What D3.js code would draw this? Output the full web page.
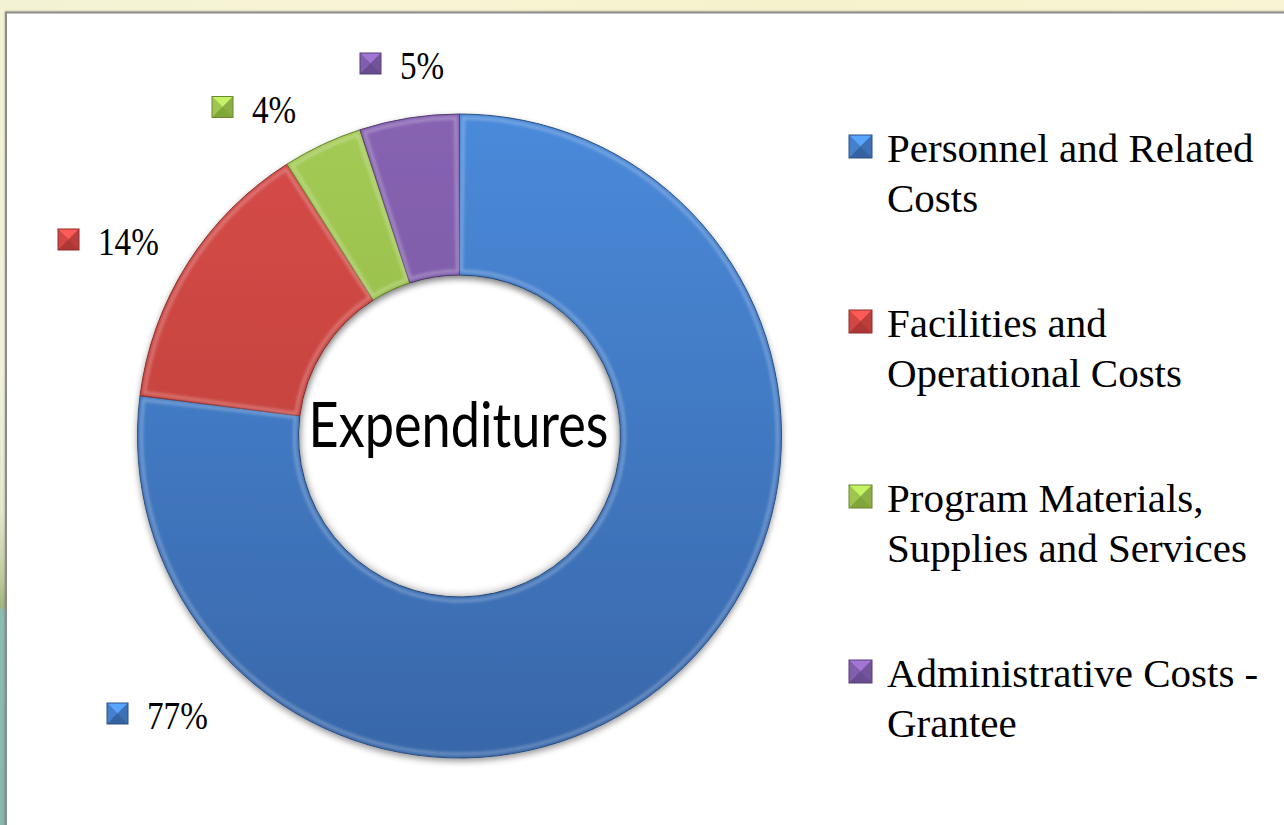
<!DOCTYPE html>
<html>
<head>
<meta charset="utf-8">
<script src="https://cdn.jsdelivr.net/npm/d3@7"></script>
<style>
  html, body { margin: 0; padding: 0; background: #fff; }
  svg { display: block; }
</style>
</head>
<body>
<svg id="chart" width="1284" height="825"></svg>
<script>
// ---- data ----
const categories = [
  "Personnel and Related Costs",
  "Facilities and Operational Costs",
  "Program Materials, Supplies and Services",
  "Administrative Costs - Grantee"
];
const values = [77, 14, 4, 5];
const percentLabels = ["77%", "14%", "4%", "5%"];
const legendLines = [
  ["Personnel and Related", "Costs"],
  ["Facilities and", "Operational Costs"],
  ["Program Materials,", "Supplies and Services"],
  ["Administrative Costs -", "Grantee"]
];
const centerTitle = "Expenditures";

// ---- styles / layout ----
const colorsTop = ["#4a8ada", "#d64c48", "#a4cb55", "#8763b2"];
const colorsBot = ["#3867a9", "#b73a38", "#88ad3e", "#6f4f98"];
const labelAnchors = [ [107, 713.5], [58, 239.5], [212, 107], [360, 63.5] ]; // marker left x, center y

const svg = d3.select("#chart");
const W = 1284, H = 825;
const defs = svg.append("defs");

// background
const bg = defs.append("linearGradient").attr("id", "bgLeft").attr("x1", 0).attr("y1", 0).attr("x2", 0).attr("y2", 1);
[["0", "#f4f2d2"], ["0.45", "#f1f1dc"], ["0.62", "#e3e8cc"], ["0.69", "#c4cfa6"], ["0.735", "#a3b682"], ["0.74", "#8fbcb2"], ["1", "#8ab6ab"]]
  .forEach(([o, c]) => bg.append("stop").attr("offset", o).attr("stop-color", c));
svg.append("rect").attr("width", W).attr("height", H).attr("fill", "url(#bgLeft)");
const bgTop = defs.append("linearGradient").attr("id", "bgTop").attr("x1", 0).attr("y1", 0).attr("x2", 1).attr("y2", 0);
[["0", "#f3f2d4"], ["0.3", "#f8f5d6"], ["0.6", "#f6f2cc"], ["1", "#f8f5d4"]]
  .forEach(([o, c]) => bgTop.append("stop").attr("offset", o).attr("stop-color", c));
svg.append("rect").attr("x", 0).attr("y", 0).attr("width", W).attr("height", 14).attr("fill", "url(#bgTop)");

// panel
const panelShadow = defs.append("filter").attr("id", "panelShadow").attr("x", "-5%").attr("y", "-5%").attr("width", "110%").attr("height", "110%");
panelShadow.append("feDropShadow").attr("dx", 0).attr("dy", 0).attr("stdDeviation", 1).attr("flood-color", "#000").attr("flood-opacity", 0.35);
svg.append("rect").attr("x", 6).attr("y", 12.5).attr("width", W + 10).attr("height", H + 10)
  .attr("fill", "#fff").attr("stroke", "#8c8c8c").attr("stroke-width", 2).attr("filter", "url(#panelShadow)");

// donut
const cx = 459.5, cy = 436, outerR = 322, innerR = 161;
const g = svg.append("g").attr("transform", `translate(${cx},${cy})`);

values.forEach((v, i) => {
  const lg = defs.append("linearGradient").attr("id", "seg" + i)
    .attr("gradientUnits", "userSpaceOnUse")
    .attr("x1", 0).attr("y1", -outerR).attr("x2", 0).attr("y2", outerR);
  lg.append("stop").attr("offset", 0).attr("stop-color", colorsTop[i]);
  lg.append("stop").attr("offset", 1).attr("stop-color", colorsBot[i]);
});

const donutShadow = defs.append("filter").attr("id", "donutShadow").attr("x", "-10%").attr("y", "-10%").attr("width", "120%").attr("height", "120%");
donutShadow.append("feDropShadow").attr("dx", 0).attr("dy", 3).attr("stdDeviation", 3).attr("flood-color", "#000").attr("flood-opacity", 0.4);
const bevelBlur = defs.append("filter").attr("id", "bevelBlur");
bevelBlur.append("feGaussianBlur").attr("stdDeviation", 1.5);

const pie = d3.pie().value(d => d).sort(null);
const arcs = pie(values);
const arc = d3.arc().innerRadius(innerR).outerRadius(outerR);
const arcInset = d3.arc().innerRadius(innerR + 4).outerRadius(outerR - 4);

const segG = g.append("g").attr("filter", "url(#donutShadow)");
segG.selectAll("path.seg").data(arcs).join("path")
  .attr("class", "seg")
  .attr("d", arc)
  .attr("fill", (d, i) => `url(#seg${i})`)
  .attr("stroke", (d, i) => d3.color(colorsBot[i]).darker(0.9))
  .attr("stroke-width", 1);

// bevel highlights
g.append("g").selectAll("path.bev").data(arcs).join("path")
  .attr("class", "bev")
  .attr("d", d => arcInset({ startAngle: d.startAngle + 0.012, endAngle: d.endAngle - 0.012 }))
  .attr("fill", "none")
  .attr("stroke", "rgba(255,255,255,0.28)")
  .attr("stroke-width", 3)
  .attr("filter", "url(#bevelBlur)");

// inner shadow on the hole
const hole = defs.append("radialGradient").attr("id", "holeShade").attr("cx", "50%").attr("cy", "50%").attr("r", "50%");
hole.append("stop").attr("offset", "0.93").attr("stop-color", "#fff").attr("stop-opacity", 0);
hole.append("stop").attr("offset", "1").attr("stop-color", "#000").attr("stop-opacity", 0.18);
g.append("circle").attr("r", innerR).attr("fill", "url(#holeShade)");

// center title
g.append("text")
  .attr("x", -1).attr("y", 11)
  .attr("text-anchor", "middle")
  .attr("font-family", "'Segoe Print','Comic Sans MS','Lato',cursive")
  .attr("font-size", 62)
  .attr("fill", "#000")
  .text(centerTitle)
  .each(function () {
    const w = this.getComputedTextLength();
    if (w > 0) {
      const s = 300 / w;
      d3.select(this).attr("transform", `scale(${s},1)`).attr("x", -1 / s);
    }
  });

// beveled marker
function marker(sel, x, y, size, i) {
  const base = d3.color(colorsTop[i]);
  const mid = d3.interpolateRgb(colorsTop[i], colorsBot[i])(0.5);
  const m = sel.append("g").attr("transform", `translate(${x},${y})`);
  const s = size, c = s / 2;
  m.append("rect").attr("width", s).attr("height", s).attr("fill", mid);
  m.append("path").attr("d", `M0,0L${s},0L${c},${c}Z`).attr("fill", d3.color(base).brighter(0.5));
  m.append("path").attr("d", `M0,0L${c},${c}L0,${s}Z`).attr("fill", d3.color(mid).brighter(0.15));
  m.append("path").attr("d", `M${s},0L${s},${s}L${c},${c}Z`).attr("fill", d3.color(mid).darker(0.2));
  m.append("path").attr("d", `M0,${s}L${c},${c}L${s},${s}Z`).attr("fill", d3.color(colorsBot[i]).darker(0.15));
  m.append("rect").attr("width", s).attr("height", s).attr("fill", "none")
    .attr("stroke", d3.color(colorsBot[i]).darker(0.7)).attr("stroke-width", 1);
}

// data labels
const lab = svg.append("g");
percentLabels.forEach((t, i) => {
  const [mx, my] = labelAnchors[i];
  marker(lab, mx, my - 10.5, 21, i);
  const tx = mx + 40;
  lab.append("text")
    .attr("transform", `translate(${tx},${my + 15.5}) scale(0.83,1)`)
    .attr("font-family", "'Liberation Serif','Times New Roman',serif")
    .attr("font-size", 40)
    .attr("fill", "#000")
    .text(t);
});

// legend
const legX = 849, legY0 = 146.5, legStep = 175;
const leg = svg.append("g");
categories.forEach((c, i) => {
  const y = legY0 + i * legStep;
  marker(leg, legX, y - 11.5, 23, i);
  const t = leg.append("text")
    .attr("x", legX + 38).attr("y", y + 15.5)
    .attr("font-family", "'Liberation Serif','Times New Roman',serif")
    .attr("font-size", 41)
    .attr("fill", "#000");
  legendLines[i].forEach((ln, k) => {
    t.append("tspan").attr("x", legX + 38).attr("dy", k === 0 ? 0 : 50).text(ln);
  });
  t.append("title").text(c);
});
</script>
</body>
</html>
